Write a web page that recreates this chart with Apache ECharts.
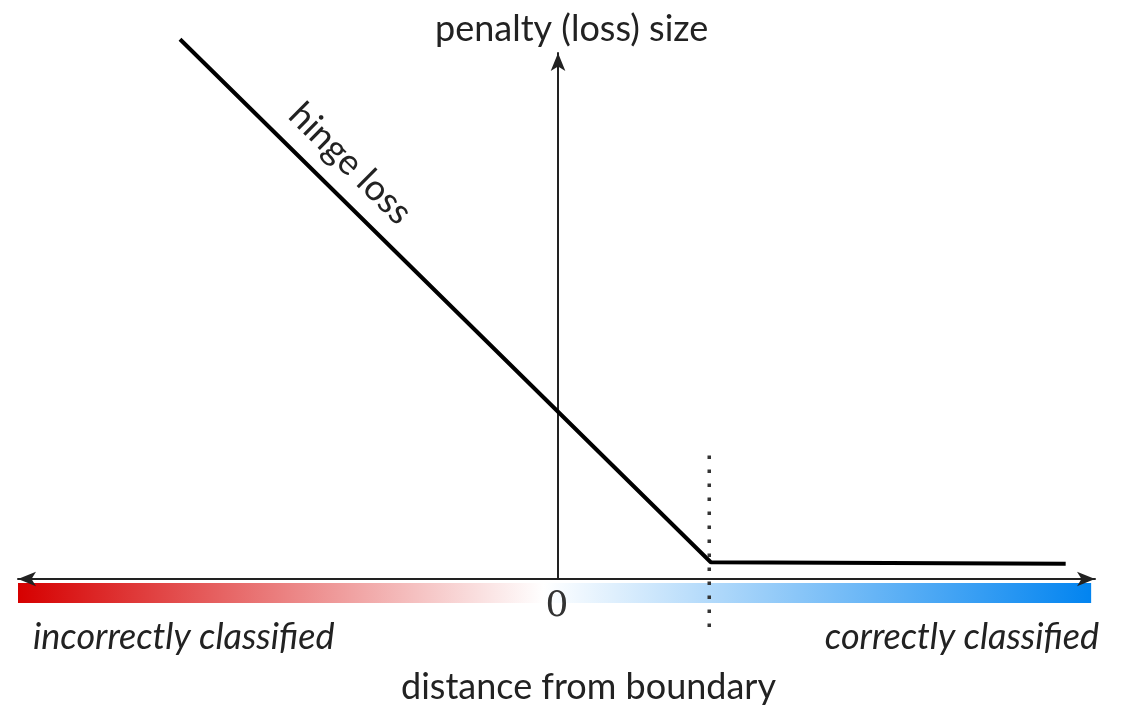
<!DOCTYPE html>
<html>
<head>
<meta charset="utf-8">
<script src="https://cdn.jsdelivr.net/npm/echarts@6/dist/echarts.min.js"></script>
<style>
  html, body { margin: 0; padding: 0; background: #fff; }
  #chart { width: 1132px; height: 708px; }
</style>
</head>
<body>
<div id="chart"></div>
<script>
  // hinge loss curve
  const distance = [-2.45, 0.99, 3.29]
  const penalty = [3.54, 0.11, 0.10]
  const margin = 0.98
  const marginSpan = [0.81, -0.32]
  const xTickValues = [0]
  const xTickLabels = ['0']
  const labelFont = 'Lato, "Open Sans", sans-serif'

  const chart = echarts.init(document.getElementById('chart'))

  const axisLineStyle = { color: '#222', width: 2 }
  const textBase = { fontFamily: labelFont, fontSize: 36, fontWeight: 'normal', color: '#222' }

  const options = {
    backgroundColor: '#fff',
    animation: false,
    title: [
      { text: 'penalty (loss) size', left: 430, top: 6, textStyle: textBase },
      { text: 'distance from boundary', left: 396, top: 664, textStyle: textBase },
      { text: 'incorrectly classified', left: 28, top: 614, textStyle: { ...textBase, fontStyle: 'italic' } },
      { text: 'correctly classified', right: 28, top: 614, textStyle: { ...textBase, fontStyle: 'italic' } },
    ],
    grid: { left: 18, right: 37, top: 53, bottom: 129, containLabel: false },
    xAxis: {
      type: 'value',
      min: -3.5,
      max: 3.48,
      interval: 0.5,
      axisLine: { onZero: true, symbol: ['arrow', 'arrow'], symbolSize: [11, 18], lineStyle: axisLineStyle },
      axisTick: { show: false },
      splitLine: { show: false },
      axisLabel: { show: false },
    },
    yAxis: {
      type: 'value',
      min: 0,
      max: 3.45,
      axisLine: { show: true, onZero: true, symbol: ['none', 'arrow'], symbolSize: [11, 18], lineStyle: axisLineStyle },
      axisTick: { show: false },
      axisLabel: { show: false },
      splitLine: { show: false },
    },
    series: [
      {
        name: 'hinge loss',
        type: 'line',
        clip: false,
        symbol: 'none',
        lineStyle: { color: '#000', width: 4 },
        data: distance.map((d, i) => [d, penalty[i]]),
        z: 5,
      },
    ],
  }
  chart.setOption(options)

  // decorations placed through the axes
  const px = p => chart.convertToPixel({ gridIndex: 0 }, p)
  const barL = px([-3.5, -0.026])
  const barR = px([3.455, -0.157])
  const dotTop = px([margin, marginSpan[0]])
  const dotBot = px([margin, marginSpan[1]])

  // "hinge loss" text sits along the sloped part
  const t = 0.28
  const a = px([distance[0], penalty[0]])
  const b = px([distance[1], penalty[1]])
  const foot = [a[0] + (b[0] - a[0]) * t, a[1] + (b[1] - a[1]) * t]
  const ang = Math.atan2(b[1] - a[1], b[0] - a[0])
  const nx = Math.sin(ang), ny = -Math.cos(ang)
  const off = 31

  const tickTexts = xTickValues.map((v, i) => {
    const p = px([v, 0])
    return {
      type: 'text',
      z: 10,
      x: p[0] - 1,
      y: p[1] + 28,
      style: { text: xTickLabels[i], font: 'normal 36px "DejaVu Serif"', fill: '#333', align: 'center', verticalAlign: 'middle' },
    }
  })

  chart.setOption({
    graphic: [
      {
        type: 'rect',
        z: -10,
        shape: { x: barL[0], y: barL[1], width: barR[0] - barL[0], height: barR[1] - barL[1] },
        style: {
          fill: new echarts.graphic.LinearGradient(0, 0, 1, 0, [
            { offset: 0, color: '#d60000' },
            { offset: 0.49, color: '#ffffff' },
            { offset: 1, color: '#0284f0' },
          ]),
        },
      },
      {
        type: 'line',
        z: 10,
        shape: { x1: dotTop[0], y1: dotTop[1], x2: dotBot[0], y2: dotBot[1] },
        style: { stroke: '#333', lineWidth: 3.5, lineDash: [3.5, 10.5] },
      },
      {
        type: 'text',
        z: 10,
        x: foot[0] + nx * off,
        y: foot[1] + ny * off,
        rotation: -ang,
        style: { text: 'hinge loss', fontFamily: labelFont, fontSize: 36, fill: '#222', align: 'center', verticalAlign: 'middle' },
      },
      ...tickTexts,
    ],
  })
</script>
</body>
</html>
